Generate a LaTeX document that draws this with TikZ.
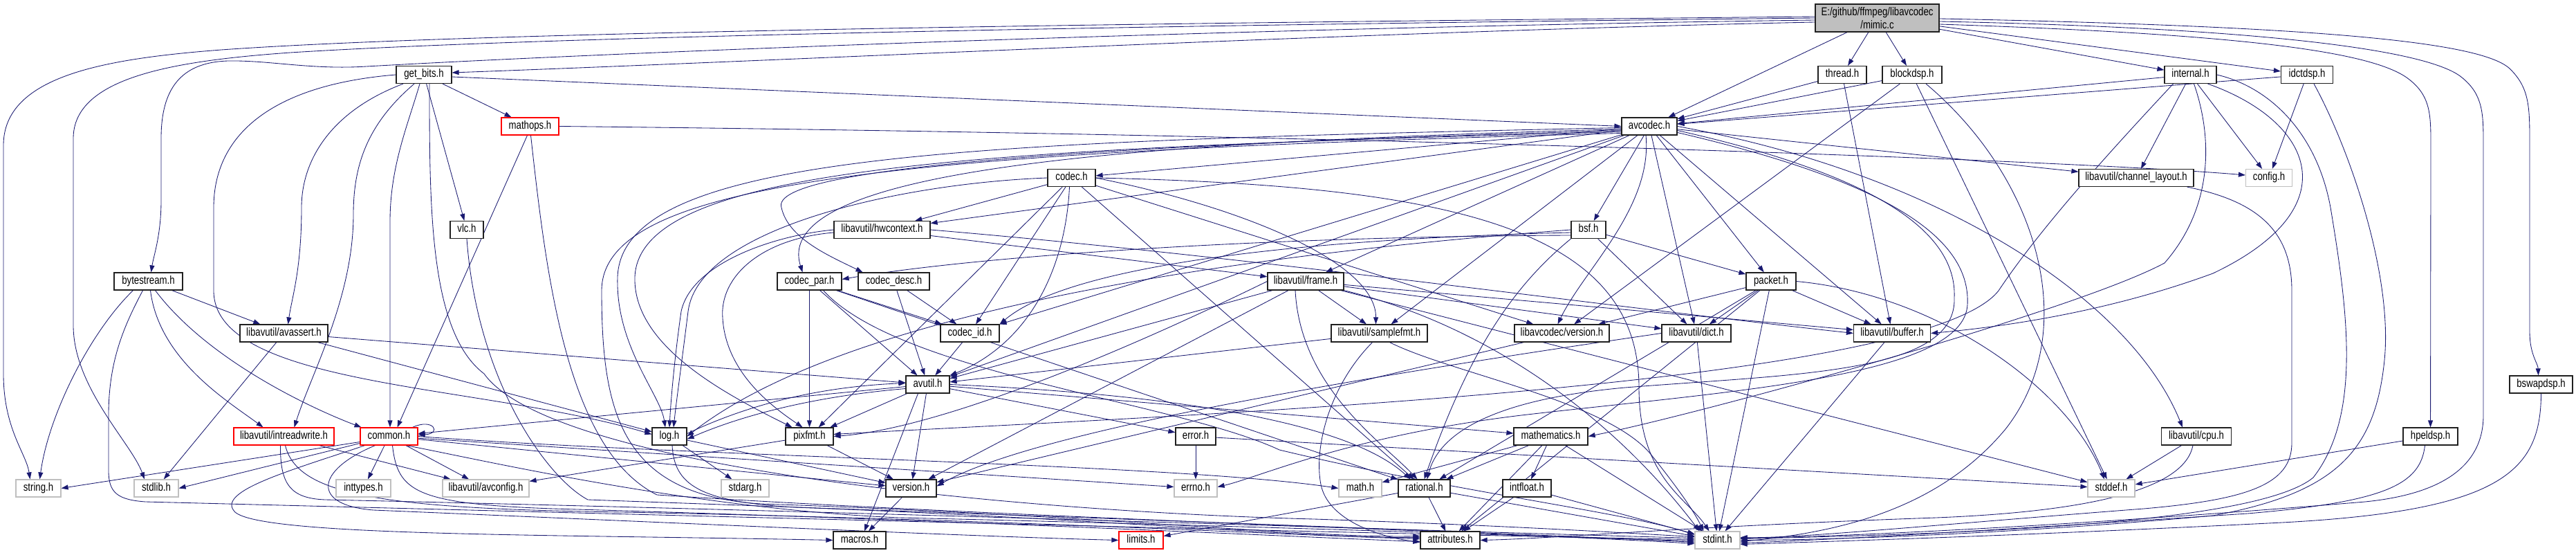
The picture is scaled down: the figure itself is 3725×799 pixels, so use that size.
\documentclass[tikz,border=0pt]{standalone}
\usepackage{fontspec}
\setmainfont{Liberation Sans}[FakeStretch=0.8]
\usetikzlibrary{arrows.meta}
\definecolor{edgec}{HTML}{191970}
\definecolor{lgray}{HTML}{BFBFBF}
\definecolor{redb}{HTML}{FF0000}
\definecolor{mimicfill}{HTML}{BFBFBF}
\definecolor{boxb}{HTML}{202020}
\pgfdeclarelayer{edgelayer}
\pgfsetlayers{edgelayer,main}
\newcommand{\dgfont}{\fontsize{16.5}{19}\selectfont}
\begin{document}
\begin{tikzpicture}[x=1pt,y=-1pt,
 nb/.style={draw=boxb,line width=1.2pt,fill=white,minimum height=25pt,inner xsep=2pt,inner ysep=0pt,text height=11.5pt,text depth=3.5pt,font=\dgfont},
 rb/.style={nb,draw=redb},
 gb/.style={nb,draw=lgray},
 mb/.style={draw=boxb,line width=1.2pt,fill=mimicfill,inner sep=2pt,font=\dgfont,align=center},
 dep/.style={draw=edgec,line width=0.85pt,-{Triangle[length=10pt,width=7pt]}}]
\useasboundingbox (0,0) rectangle (3725,799);

% ---------- nodes ----------
\node[mb,minimum width=179pt,minimum height=40pt] (mimic) at (2714.5,26) {E:/github/ffmpeg/libavcodec\\/mimic.c};
\node[nb,minimum width=80pt] (getbits) at (613,108) {get\_bits.h};
\node[nb,minimum width=70pt] (thread) at (2664,108) {thread.h};
\node[nb,minimum width=86pt] (blockdsp) at (2765,108) {blockdsp.h};
\node[nb,minimum width=75pt] (internal) at (3167.5,108) {internal.h};
\node[nb,minimum width=75pt] (idctdsp) at (3336,108) {idctdsp.h};
\node[nb,minimum width=80pt] (avcodec) at (2385,182.5) {avcodec.h};
\node[rb,minimum width=83pt] (mathops) at (766.5,182.5) {mathops.h};
\node[nb,minimum width=69pt] (codec) at (1549.5,257) {codec.h};
\node[gb,minimum width=67pt] (config) at (3281,257) {config.h};
\node[nb,minimum width=166pt] (chlayout) at (3089,257) {libavutil/channel\_layout.h};
\node[nb,minimum width=48pt] (vlc) at (675,332) {vlc.h};
\node[nb,minimum width=139pt] (hwctx) at (1275.5,332) {libavutil/hwcontext.h};
\node[nb,minimum width=50pt] (bsf) at (2297,332) {bsf.h};
\node[nb,minimum width=99pt] (bytestream) at (214.5,406.5) {bytestream.h};
\node[nb,minimum width=93pt] (codecpar) at (1170.5,406.5) {codec\_par.h};
\node[nb,minimum width=103pt] (codecdesc) at (1292.5,406.5) {codec\_desc.h};
\node[nb,minimum width=110pt] (frame) at (1888,406.5) {libavutil/frame.h};
\node[nb,minimum width=72pt] (packet) at (2561,406.5) {packet.h};
\node[nb,minimum width=127pt] (avassert) at (410.5,481.5) {libavutil/avassert.h};
\node[nb,minimum width=85pt] (codecid) at (1402.5,481.5) {codec\_id.h};
\node[nb,minimum width=139pt] (samplefmt) at (1994.5,481.5) {libavutil/samplefmt.h};
\node[nb,minimum width=137pt] (lavcver) at (2258.5,481.5) {libavcodec/version.h};
\node[nb,minimum width=100pt] (dict) at (2453,481.5) {libavutil/dict.h};
\node[nb,minimum width=111pt] (buffer) at (2736,481.5) {libavutil/buffer.h};
\node[nb,minimum width=63pt] (avutil) at (1341.5,555.5) {avutil.h};
\node[rb,minimum width=145pt] (intrw) at (410.5,630.5) {libavutil/intreadwrite.h};
\node[rb,minimum width=83pt] (common) at (562.5,630.5) {common.h};
\node[nb,minimum width=50pt] (logh) at (968,630.5) {log.h};
\node[nb,minimum width=69pt] (pixfmt) at (1170.5,630.5) {pixfmt.h};
\node[nb,minimum width=58pt] (error) at (1729,630.5) {error.h};
\node[nb,minimum width=107pt] (mathem) at (2242.5,630.5) {mathematics.h};
\node[nb,minimum width=101pt] (cpu) at (3176,630.5) {libavutil/cpu.h};
\node[nb,minimum width=79pt] (hpel) at (3514.5,630.5) {hpeldsp.h};
\node[nb,minimum width=91pt] (bswap) at (3674.5,555.5) {bswapdsp.h};
\node[gb,minimum width=65pt] (stringh) at (55.5,705.5) {string.h};
\node[gb,minimum width=64pt] (stdlibh) at (226,705.5) {stdlib.h};
\node[gb,minimum width=79pt] (inttypes) at (525.5,705.5) {inttypes.h};
\node[gb,minimum width=125pt] (avconfig) at (702.5,705.5) {libavutil/avconfig.h};
\node[gb,minimum width=69pt] (stdarg) at (1077.5,705.5) {stdarg.h};
\node[nb,minimum width=73pt] (version) at (1317.5,705.5) {version.h};
\node[gb,minimum width=62pt] (errno) at (1729,705.5) {errno.h};
\node[gb,minimum width=62pt] (mathh) at (1967,705.5) {math.h};
\node[nb,minimum width=75pt] (rational) at (2059.5,705.5) {rational.h};
\node[nb,minimum width=70pt] (intfloat) at (2208,705.5) {intfloat.h};
\node[gb,minimum width=68pt] (stddef) at (3053,705.5) {stddef.h};
\node[nb,minimum width=76pt] (macros) at (1243,780.5) {macros.h};
\node[rb,minimum width=64pt] (limits) at (1650,780.5) {limits.h};
\node[nb,minimum width=86pt] (attributes) at (2097,780.5) {attributes.h};
\node[gb,minimum width=65pt] (stdint) at (2483.5,780.5) {stdint.h};

% ---------- edges ----------
\begin{pgfonlayer}{edgelayer}
% mimic.c
\draw[dep] ([yshift=2pt]mimic.west) .. controls (1700,33) and (700,45) .. (320,72) .. controls (150,85) and (5,110) .. (5,210) -- (5,540) .. controls (5,620) and (38,655) .. ([xshift=-12pt]stringh.north);
\draw[dep] (mimic.west) .. controls (1700,36) and (800,52) .. (420,76) .. controls (250,88) and (106,112) .. (106,200) -- (106,470) .. controls (106,560) and (190,640) .. ([xshift=-17pt]stdlibh.north);
\draw[dep] ([yshift=-3pt]mimic.west) .. controls (1800,40) and (900,75) .. (530,96) .. controls (450,101) and (390,87) .. (330,88) .. controls (260,90) and (233,130) .. (233,200) -- (233,290) .. controls (233,340) and (222,370) .. ([xshift=4pt]bytestream.north);
\draw[dep] ([yshift=-6pt]mimic.west) .. controls (2000,45) and (1200,85) .. ([yshift=3pt]getbits.east);
\draw[dep] (mimic) -- (avcodec);
\draw[dep] (mimic) -- (thread);
\draw[dep] (mimic) -- (blockdsp);
\draw[dep] (mimic) -- (internal);
\draw[dep] (mimic) -- (idctdsp);
\draw[dep] ([yshift=-9pt]mimic.east) .. controls (3200,48) and (3420,70) .. (3480,112) .. controls (3515,137) and (3515,165) .. (3515,210) -- (hpel.north);
\draw[dep] ([yshift=-5pt]mimic.east) .. controls (3250,40) and (3510,70) .. (3560,112) .. controls (3591,137) and (3591,165) .. (3591,210) -- (3591,600) .. controls (3591,680) and (3520,715) .. (3420,725) .. controls (3000,760) and (2650,776) .. ([yshift=3pt]stdint.east);
\draw[dep] ([yshift=-1pt]mimic.east) .. controls (3350,38) and (3590,60) .. (3630,100) .. controls (3658,128) and (3658,155) .. (3658,210) -- (3658,480) .. controls (3658,512) and (3670,525) .. ([xshift=-4pt]bswap.north);
% get_bits.h
\draw[dep] ([yshift=-3pt]getbits.east) -- (avcodec.west);
\draw[dep] (getbits) -- (mathops);
\draw[dep] (getbits) -- (vlc);
\draw[dep] ([xshift=-30pt]getbits.south) .. controls (480,160) and (436,230) .. (436,300) .. controls (436,390) and (422,430) .. ([xshift=6pt]avassert.north);
\draw[dep] ([xshift=-14pt]getbits.south) .. controls (530,180) and (511,240) .. (511,310) .. controls (511,430) and (450,540) .. ([xshift=15pt]intrw.north);
\draw[dep] ([xshift=-6pt]getbits.south) .. controls (590,180) and (564,240) .. (564,320) -- ([xshift=1.5pt]common.north);
\draw[dep] (getbits.west) .. controls (400,122) and (309,190) .. (309,300) -- (309,420) .. controls (309,560) and (700,555) .. ([yshift=3pt]logh.west);
\draw[dep] ([xshift=8pt]getbits.south) .. controls (621,300) and (621,480) .. (700,540) .. controls (800,680) and (1500,740) .. (1900,750) .. controls (2200,760) and (2380,772) .. ([yshift=5pt]stdint.west);
% bytestream.h
\draw[dep] ([xshift=-22pt]bytestream.south) .. controls (130,480) and (70,600) .. ([xshift=2pt]stringh.north);
\draw[dep] ([xshift=-8pt]bytestream.south) .. controls (180,470) and (157,520) .. (157,600) -- (157,680) .. controls (157,712) and (170,722) .. (210,725) .. controls (1000,745) and (2000,772) .. ([yshift=1pt]stdint.west);
\draw[dep] ([xshift=3pt]bytestream.south) .. controls (230,520) and (330,580) .. ([xshift=-30pt]intrw.north);
\draw[dep] ([xshift=10pt]bytestream.south) .. controls (300,520) and (450,590) .. ([xshift=-40pt]common.north);
\draw[dep] (bytestream) -- (avassert);
% vlc.h, mathops.h
\draw[dep] (vlc.south) .. controls (690,550) and (790,690) .. (850,722) .. controls (1400,742) and (2200,770) .. ([yshift=-3pt]stdint.west);
\draw[dep] (mathops.east) .. controls (2000,195) and (3000,232) .. ([yshift=4pt]config.west);
\draw[dep] ([xshift=-4pt]mathops.south) -- ([xshift=12pt]common.north);
\draw[dep] ([xshift=1pt]mathops.south) .. controls (790,400) and (820,650) .. (950,715) .. controls (1400,745) and (2200,770) .. ([yshift=-5pt]stdint.west);
% thread.h, blockdsp.h
\draw[dep] (thread) -- (avcodec);
\draw[dep] (thread) -- (buffer);
\draw[dep] (blockdsp) -- (avcodec);
\draw[dep] (blockdsp) -- (lavcver);
\draw[dep] (blockdsp) -- (stddef);
\draw[dep] ([xshift=20pt]blockdsp.south) .. controls (2950,260) and (3010,480) .. (2900,620) .. controls (2800,740) and (2650,770) .. ([yshift=-2pt]stdint.east);
% internal.h
\draw[dep] (internal) -- (avcodec);
\draw[dep] (internal) -- (config);
\draw[dep] (internal) -- (chlayout);
\draw[dep] (internal.east) .. controls (3280,125) and (3350,190) .. (3370,300) .. controls (3395,450) and (3415,600) .. (3345,690) .. controls (3260,760) and (2800,772) .. ([yshift=2pt]stdint.east);
\draw[dep] ([xshift=25pt]internal.south) .. controls (3345,175) and (3400,300) .. (3200,395) .. controls (3050,450) and (2900,472) .. (buffer.east);
\draw[dep] ([xshift=5pt]internal.south) .. controls (3200,200) and (3200,300) .. (3130,380) .. controls (3000,450) and (2450,600) .. (mathem.east);
\draw[dep] ([xshift=-25pt]internal.south) .. controls (3050,220) and (2950,330) .. (2890,420) .. controls (2780,560) and (1700,600) .. ([yshift=3pt]pixfmt.east);
% idctdsp.h
\draw[dep] (idctdsp) -- (config);
\draw[dep] (idctdsp) -- (avcodec);
\draw[dep] ([xshift=10pt]idctdsp.south) .. controls (3400,220) and (3460,400) .. (3448,520) .. controls (3435,650) and (3380,712) .. (3200,745) .. controls (2900,772) and (2650,780) .. (stdint.east);
% hpeldsp.h, bswapdsp.h, channel_layout.h, cpu.h
\draw[dep] (hpel) -- (stddef);
\draw[dep] ([xshift=-8pt]hpel.south) .. controls (3500,700) and (3450,725) .. (3250,742) .. controls (2900,765) and (2650,780) .. ([yshift=-4pt]stdint.east);
\draw[dep] (bswap.south) .. controls (3674,680) and (3620,738) .. (3300,755) .. controls (2900,775) and (2650,782) .. ([yshift=-6pt]stdint.east);
\draw[dep] ([xshift=-10pt]chlayout.south east) .. controls (3260,290) and (3314,330) .. (3314,420) -- (3314,640) .. controls (3314,700) and (3250,722) .. (3100,735) .. controls (2800,758) and (2600,778) .. ([yshift=4pt]stdint.east);
\draw[dep] (cpu) -- (stddef);
\draw[dep] ([xshift=-5pt]cpu.south) .. controls (3160,700) and (3050,738) .. (2800,748) .. controls (2450,760) and (2250,778) .. (attributes.east);
% avcodec.h
\draw[dep] (avcodec) -- (codec);
\draw[dep] (avcodec) -- (bsf);
\draw[dep] (avcodec) -- (hwctx);
\draw[dep] (avcodec) -- (avutil);
\draw[dep] (avcodec) -- (frame);
\draw[dep] (avcodec) -- (samplefmt);
\draw[dep] (avcodec) -- (dict);
\draw[dep] (avcodec) -- (buffer);
\draw[dep] (avcodec) -- (packet);
\draw[dep] (avcodec) -- (codecid);
\draw[dep] (avcodec) -- (chlayout);
\draw[dep] ([xshift=-5pt]avcodec.south) .. controls (2390,300) and (2290,390) .. ([xshift=-6pt]lavcver.north);
\draw[dep] ([yshift=-4pt]avcodec.west) .. controls (1700,205) and (1110,235) .. ([xshift=-10pt]codecpar.north);
\draw[dep] ([yshift=-6pt]avcodec.west) .. controls (1600,210) and (1110,240) .. (1130,300) .. controls (1140,345) and (1200,370) .. ([xshift=-45pt]codecdesc.north);
\draw[dep] ([yshift=-2pt]avcodec.west) .. controls (1400,205) and (900,220) .. (893,400) .. controls (890,500) and (955,570) .. ([xshift=-6pt]logh.north);
\draw[dep] ([yshift=-8pt]avcodec.west) .. controls (1400,215) and (925,240) .. (918,400) .. controls (915,500) and (1050,570) .. ([xshift=-25pt]pixfmt.north);
\draw[dep] ([yshift=-10pt]avcodec.west) .. controls (1300,220) and (870,260) .. (870,420) .. controls (870,600) and (900,715) .. (1100,728) .. controls (1600,745) and (1900,778) .. ([yshift=6pt]attributes.west);
\draw[dep] ([yshift=-6pt]avcodec.east) .. controls (2700,250) and (2830,330) .. (2826,430) .. controls (2830,540) and (2600,540) .. (2350,560) .. controls (2150,578) and (2080,630) .. ([xshift=4pt]rational.north);
\draw[dep] ([yshift=-9pt]avcodec.east) .. controls (2720,260) and (2850,340) .. (2845,440) .. controls (2840,545) and (2500,565) .. (2200,600) .. controls (1950,630) and (1820,690) .. ([yshift=2pt]errno.east);
\draw[dep] (avcodec.east) .. controls (2800,250) and (3080,430) .. ([xshift=-20pt]cpu.north);
% codec.h
\draw[dep] (codec) -- (hwctx);
\draw[dep] (codec) -- (pixfmt);
\draw[dep] (codec) -- (codecid);
\draw[dep] (codec) -- (rational);
\draw[dep] (codec) -- (lavcver);
\draw[dep] (codec.west) .. controls (1300,265) and (1010,330) .. (995,450) .. controls (985,530) and (978,580) .. ([xshift=6pt]logh.north);
\draw[dep] ([xshift=-3pt]codec.south) .. controls (1540,400) and (1480,500) .. (avutil.north east);
\draw[dep] (codec.east) .. controls (1800,300) and (1990,380) .. ([xshift=-5pt]samplefmt.north);
\draw[dep] (codec.east) .. controls (2100,268) and (2370,330) .. (2370,560) .. controls (2370,690) and (2440,720) .. ([xshift=-12pt]stdint.north);
% codec_desc.h, codec_id.h, codec_par.h
\draw[dep] (codecdesc) -- (avutil);
\draw[dep] (codecdesc) -- (codecid);
\draw[dep] (codecid) -- (avutil);
\draw[dep] (codecpar) -- (avutil);
\draw[dep] (codecpar) -- (codecid);
\draw[dep] (codecpar) -- (pixfmt);
\draw[dep] (codecpar) -- (rational);
\draw[dep] ([xshift=20pt]codecpar.south) .. controls (1300,540) and (1700,580) .. (1850,650) .. controls (2100,710) and (2350,740) .. ([yshift=8pt]stdint.west);
% bsf.h
\draw[dep] (bsf) -- (dict);
\draw[dep] (bsf) -- (packet);
\draw[dep] (bsf.west) .. controls (1900,360) and (1250,430) .. (logh.east);
\draw[dep] (bsf.south west) .. controls (2180,420) and (2120,520) .. (rational.north);
\draw[dep] ([yshift=-4pt]bsf.west) .. controls (1900,345) and (1550,380) .. (codecid.north east);
\draw[dep] ([yshift=-8pt]bsf.west) .. controls (1800,342) and (1400,372) .. ([yshift=3pt]codecpar.east);
% packet.h
\draw[dep] (packet) -- (dict);
\draw[dep] (packet) -- (buffer);
\draw[dep] (packet) -- (rational);
\draw[dep] (packet) -- (lavcver);
\draw[dep] (packet) -- (attributes);
\draw[dep] (packet) -- (stdint);
\draw[dep] (packet.east) .. controls (2800,425) and (2990,560) .. ([xshift=-10pt]stddef.north);
% libavcodec/version.h
\draw[dep] (lavcver) -- (version);
% frame.h
\draw[dep] (frame) -- (avutil);
\draw[dep] (frame) -- (buffer);
\draw[dep] (frame) -- (dict);
\draw[dep] (frame) -- (samplefmt);
\draw[dep] (frame) -- (version);
\draw[dep] (frame) -- (stddef);
\draw[dep] (frame.west) .. controls (1600,520) and (1350,620) .. (pixfmt.east);
\draw[dep] (frame.south east) .. controls (2150,470) and (2330,600) .. ([xshift=-26pt]stdint.north);
\draw[dep] ([xshift=-15pt]frame.south) .. controls (1880,560) and (2000,640) .. ([xshift=-10pt]rational.north);
% samplefmt.h, dict.h, buffer.h
\draw[dep] (samplefmt) -- (avutil);
\draw[dep] ([xshift=15pt]samplefmt.south) .. controls (2100,540) and (2330,580) .. (2390,660) .. controls (2430,710) and (2450,740) .. ([xshift=-20pt]stdint.north);
\draw[dep] ([xshift=-10pt]samplefmt.south) .. controls (1920,560) and (1900,650) .. (1910,700) .. controls (1920,750) and (1990,775) .. ([yshift=-3pt]attributes.west);
\draw[dep] (dict) -- (stdint);
\draw[dep] (dict.west) .. controls (2000,540) and (1500,620) .. ([yshift=3pt]version.east);
\draw[dep] (buffer) -- (stdint);
% hwcontext.h
\draw[dep] (hwctx) -- (frame);
\draw[dep] (hwctx.east) .. controls (1800,370) and (2300,440) .. (buffer.west);
\draw[dep] (hwctx.west) .. controls (1120,340) and (1000,380) .. (985,450) .. controls (975,520) and (970,580) .. (logh.north);
\draw[dep] ([yshift=-4pt]hwctx.west) .. controls (1100,345) and (1040,400) .. (1045,460) .. controls (1050,540) and (1120,590) .. ([xshift=-10pt]pixfmt.north);
% avassert.h
\draw[dep] (avassert) -- (stdlibh);
\draw[dep] (avassert) -- (avutil);
\draw[dep] (avassert) -- (logh);
% intreadwrite.h
\draw[dep] (intrw) -- (avconfig);
\draw[dep] ([xshift=-5pt]intrw.south) .. controls (405,700) and (420,720) .. (470,722) .. controls (1200,738) and (2100,768) .. ([yshift=3pt]stdint.west);
\draw[dep] ([xshift=2pt]intrw.south) .. controls (430,715) and (550,735) .. (900,740) .. controls (1500,752) and (1900,775) .. ([yshift=2pt]attributes.west);
% common.h
\draw[dep] ([xshift=-8pt]common.north east) .. controls +(30,-14) and +(35,-2) .. ([yshift=2pt]common.east);
\draw[dep] ([yshift=-8pt]common.west) -- (stringh.east);
\draw[dep] ([yshift=-10pt]common.west) -- (stdlibh.east);
\draw[dep] (common) -- (inttypes);
\draw[dep] (common) -- (errno);
\draw[dep] (common) -- (avconfig);
\draw[dep] (common) -- (version);
\draw[dep] (common.east) .. controls (1000,660) and (1700,670) .. (mathh.west);
\draw[dep] ([xshift=-35pt]common.south) .. controls (420,680) and (310,710) .. (340,740) .. controls (380,775) and (800,772) .. (macros.west);
\draw[dep] ([xshift=-20pt]common.south) .. controls (455,680) and (450,730) .. (540,737) .. controls (900,752) and (1400,775) .. (limits.west);
\draw[dep] ([xshift=5pt]common.south) .. controls (575,710) and (600,728) .. (800,735) .. controls (1400,752) and (1900,777) .. ([yshift=-2pt]attributes.west);
\draw[dep] ([xshift=25pt]common.south) .. controls (700,665) and (1000,735) .. (1300,748) .. controls (1900,762) and (2300,778) .. ([yshift=-1pt]stdint.west);
% log.h
\draw[dep] (logh) -- (stdarg);
\draw[dep] (logh) -- (version);
\draw[dep] ([yshift=4pt]logh.east) .. controls (1060,595) and (1160,560) .. ([yshift=2pt]avutil.west);
\draw[dep] ([xshift=4pt]logh.south) .. controls (975,700) and (1010,725) .. (1150,733) .. controls (1600,750) and (1900,778) .. ([yshift=4pt]attributes.west);
% pixfmt.h
\draw[dep] (pixfmt) -- (avconfig);
\draw[dep] (pixfmt) -- (version);
% avutil.h
\draw[dep] (avutil) -- (common);
\draw[dep] (avutil) -- (error);
\draw[dep] (avutil) -- (version);
\draw[dep] (avutil) -- (mathem);
\draw[dep] (avutil) -- (pixfmt);
\draw[dep] ([xshift=-14pt]avutil.south) -- ([xshift=7pt]macros.north);
\draw[dep] ([yshift=-6pt]avutil.west) .. controls (1150,575) and (1050,610) .. ([yshift=-4pt]logh.east);
\draw[dep] (avutil.east) .. controls (1700,570) and (1950,610) .. ([xshift=-20pt]rational.north);
% error.h
\draw[dep] (error) -- (errno);
\draw[dep] (error) -- (stddef);
% mathematics.h
\draw[dep] (mathem) -- (stdint);
\draw[dep] (mathem) -- (mathh);
\draw[dep] (mathem) -- (attributes);
\draw[dep] (mathem) -- (rational);
\draw[dep] (mathem) -- (intfloat);
% rational.h, intfloat.h, version.h
\draw[dep] (rational) -- (stdint);
\draw[dep] (rational) -- (limits);
\draw[dep] (rational) -- (attributes);
\draw[dep] (intfloat) -- (stdint);
\draw[dep] (intfloat) -- (attributes);
\draw[dep] (version) -- (macros);
\end{pgfonlayer}
\end{tikzpicture}
\end{document}
